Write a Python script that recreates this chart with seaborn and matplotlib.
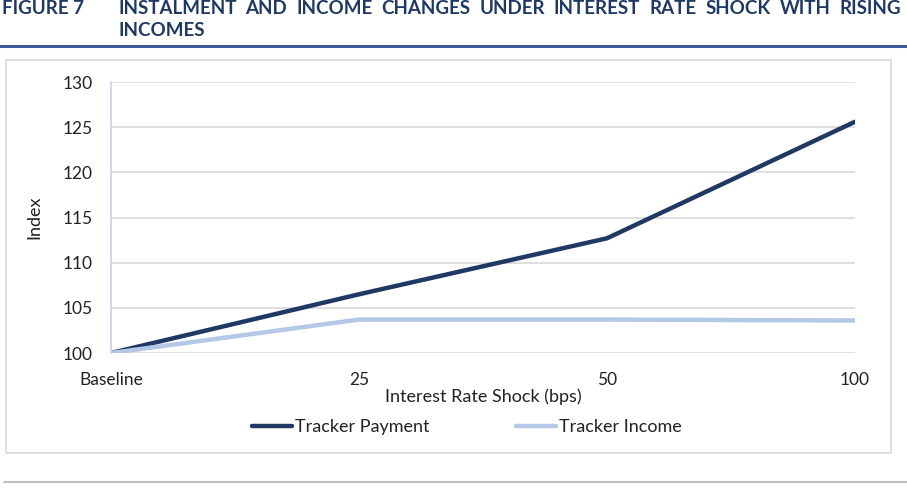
import matplotlib
matplotlib.use("Agg")
import matplotlib.pyplot as plt
import seaborn as sns
import pandas as pd
from matplotlib.lines import Line2D
from matplotlib.patches import Rectangle

categories = ["Baseline", "25", "50", "100"]
tracker_payment = [100.0, 106.5, 112.7, 125.6]
tracker_income = [100.0, 103.7, 103.7, 103.6]
series_names = ["Tracker Payment", "Tracker Income"]
colors = ["#1F3864", "#B4C7E7"]
yticks = [100, 105, 110, 115, 120, 125, 130]
title_label = "FIGURE 7"
title_line1 = "INSTALMENT AND INCOME CHANGES UNDER INTEREST RATE SHOCK WITH RISING"
title_line2 = "INCOMES"

df = pd.DataFrame({
    "shock": categories * 2,
    "value": tracker_payment + tracker_income,
    "series": [series_names[0]] * len(categories) + [series_names[1]] * len(categories),
})

sns.set_theme(style="white")
plt.rcParams["font.family"] = ["Lato", "DejaVu Sans"]

W, H = 907, 492
fig = plt.figure(figsize=(W / 100, H / 100), dpi=100)
ax = fig.add_axes([111 / W, 1 - 353 / H, (855 - 111) / W, (353 - 82) / H])

sns.lineplot(data=df, x="shock", y="value", hue="series", palette=colors,
             linewidth=3.2, ax=ax, legend=False, sort=False)

txt = "#222222"
ax.set_xlim(0, 3)
ax.set_ylim(100, 130)
ax.set_yticks(yticks)
ax.set_yticklabels([str(t) for t in yticks])
ax.tick_params(axis="x", labelsize=12.5, colors=txt, pad=14, length=0)
ax.tick_params(axis="y", labelsize=12.5, colors=txt, pad=13.5, length=0)
ax.grid(axis="y", color="#D9D9D9", linewidth=1.2)
ax.set_axisbelow(True)
for s in ["top", "right", "bottom"]:
    ax.spines[s].set_visible(False)
ax.spines["left"].set_color("#C5D3EA")
ax.spines["left"].set_linewidth(1.2)
ax.set_xlabel("Interest Rate Shock (bps)", fontsize=13, color=txt, labelpad=0)
ax.set_ylabel("Index", fontsize=13, color=txt, labelpad=14)

handles = [Line2D([0], [0], color=c, lw=3.2) for c in colors]
fig.legend(handles, series_names, loc="center", bbox_to_anchor=(467 / W, 1 - 427 / H),
           ncol=2, frameon=False, fontsize=13, handlelength=2.2, handletextpad=0.17,
           columnspacing=4.8, labelcolor=txt)

# chart box and rules
fig.add_artist(Rectangle((6 / W, 1 - 453 / H), (891 - 6) / W, (453 - 60) / H,
                         transform=fig.transFigure, fill=False, edgecolor="#D9D9D9", lw=1.2))
fig.add_artist(Line2D([0, 1], [1 - 46 / H] * 2, transform=fig.transFigure,
                      color="#3D5A96", lw=2.2))
fig.add_artist(Line2D([4 / W, 1], [1 - 482 / H] * 2, transform=fig.transFigure,
                      color="#BFBFBF", lw=1.5))

# title (justified first line)
title_color = "#1F3864"
tkw = dict(fontsize=13.5, fontweight="bold", color=title_color, va="center", ha="left")
y1 = 1 - 8 / H
fig.text(2 / W, y1, title_label, **tkw)
fig.text(118 / W, 1 - 31 / H, title_line2, **tkw)

words = title_line1.split()
renderer = fig.canvas.get_renderer()
x_start, x_end = 118, 901
fs = tkw["fontsize"]
while True:
    arts = [fig.text(0, y1, w, **{**tkw, "fontsize": fs}) for w in words]
    widths = [a.get_window_extent(renderer).width for a in arts]
    gap = (x_end - x_start - sum(widths)) / (len(words) - 1)
    if gap >= 4 or fs < 9:
        break
    for a in arts:
        a.remove()
    fs -= 0.25
x = x_start
for a, w in zip(arts, widths):
    a.set_x(x / W)
    x += w + gap

fig.savefig("out.png", dpi=100, facecolor="white")
